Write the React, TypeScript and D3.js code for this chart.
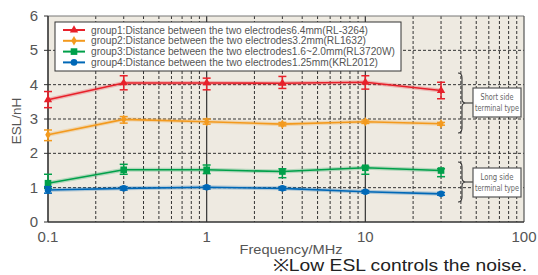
import * as d3 from "d3";
import { useEffect, useRef } from "react";

const freqs = [0.1, 0.3, 1, 3, 10, 30];

const groupNames = [
  "group1:Distance between the two electrodes6.4mm(RL-3264)",
  "group2:Distance between the two electrodes3.2mm(RL1632)",
  "group3:Distance between the two electrodes1.6~2.0mm(RL3720W)",
  "group4:Distance between the two electrodes1.25mm(KRL2012)",
];
const colors = ["#e8202a", "#f39a1e", "#00a04a", "#0068b7"];
const markers = ["triangle", "diamond", "square", "circle"];

const g1 = [3.56, 4.05, 4.05, 4.04, 4.07, 3.83];
const g1Hi = [3.8, 4.26, 4.19, 4.24, 4.26, 4.07];
const g1Lo = [3.33, 3.85, 3.85, 3.89, 3.87, 3.59];

const g2 = [2.54, 2.99, 2.92, 2.85, 2.92, 2.86];
const g2Hi = [2.68, 3.07, 3.0, 2.9, 2.97, 2.9];
const g2Lo = [2.37, 2.88, 2.85, 2.8, 2.87, 2.82];

const g3 = [1.13, 1.52, 1.52, 1.47, 1.58, 1.5];
const g3Hi = [1.39, 1.68, 1.66, 1.55, 1.62, 1.55];
const g3Lo = [0.98, 1.39, 1.41, 1.29, 1.39, 1.32];

const g4 = [0.93, 0.98, 1.01, 0.98, 0.88, 0.82];
const g4Hi = [1.03, 1.03, 1.05, 1.03, 0.92, 0.86];
const g4Lo = [0.84, 0.93, 0.96, 0.93, 0.84, 0.78];

const seriesVals = [g1, g2, g3, g4];
const seriesHi = [g1Hi, g2Hi, g3Hi, g4Hi];
const seriesLo = [g1Lo, g2Lo, g3Lo, g4Lo];

const yTicks = [0, 1, 2, 3, 4, 5, 6];
const xTicks = [0.1, 1, 10, 100];
const xTickLabels = ["0.1", "1", "10", "100"];

// widths of the legend labels as they appear in the original
const legendWidths = [277, 275, 304, 287];

const symbolTypes: Record<string, d3.SymbolType> = {
  triangle: d3.symbolTriangle,
  diamond: d3.symbolDiamond,
  square: d3.symbolSquare,
  circle: d3.symbolCircle,
};
const symbolSizes: Record<string, number> = {
  triangle: 30,
  diamond: 26,
  square: 44,
  circle: 34,
};

const font = "'Liberation Sans', Arial, sans-serif";

export default function App() {
  const ref = useRef<SVGSVGElement | null>(null);

  useEffect(() => {
    if (!ref.current) return;
    const svg = d3.select(ref.current);
    svg.selectAll("*").remove();

    const left = 48, right = 524, top = 16, bottom = 222;
    const x = d3.scaleLog().domain([0.1, 100]).range([left, right]);
    const y = d3.scaleLinear().domain([0, 6]).range([bottom, top]);

    // plot background
    svg.append("rect")
      .attr("x", left).attr("y", top)
      .attr("width", right - left).attr("height", bottom - top)
      .attr("fill", "#eeeae1");

    // minor vertical grid
    const minor: number[] = [];
    for (const dec of [0.1, 1, 10]) {
      for (let k = 2; k <= 9; k++) minor.push(dec * k);
    }
    svg.append("g").selectAll("line").data(minor).enter().append("line")
      .attr("x1", (d) => x(d)).attr("x2", (d) => x(d))
      .attr("y1", top).attr("y2", bottom)
      .attr("stroke", "#333").attr("stroke-width", 1)
      .attr("stroke-dasharray", "3,2");

    // horizontal grid
    svg.append("g").selectAll("line").data([1, 2, 3, 4, 5]).enter().append("line")
      .attr("x1", left).attr("x2", right)
      .attr("y1", (d) => y(d)).attr("y2", (d) => y(d))
      .attr("stroke", "#333").attr("stroke-width", 1)
      .attr("stroke-dasharray", "3,2");

    // solid decade lines
    svg.append("g").selectAll("line").data([1, 10]).enter().append("line")
      .attr("x1", (d) => x(d)).attr("x2", (d) => x(d))
      .attr("y1", top).attr("y2", bottom)
      .attr("stroke", "#333").attr("stroke-width", 1.2);

    // frame
    svg.append("line").attr("x1", left).attr("x2", right).attr("y1", top).attr("y2", top)
      .attr("stroke", "#777").attr("stroke-width", 1);
    svg.append("line").attr("x1", right).attr("x2", right).attr("y1", top).attr("y2", bottom)
      .attr("stroke", "#555").attr("stroke-width", 1.2);
    svg.append("line").attr("x1", left).attr("x2", left).attr("y1", top).attr("y2", bottom)
      .attr("stroke", "#333").attr("stroke-width", 1.6);
    svg.append("line").attr("x1", left).attr("x2", right).attr("y1", bottom).attr("y2", bottom)
      .attr("stroke", "#333").attr("stroke-width", 1.6);

    // y ticks
    const yt = svg.append("g");
    yt.selectAll("line").data(yTicks).enter().append("line")
      .attr("x1", left - 4).attr("x2", left)
      .attr("y1", (d) => y(d)).attr("y2", (d) => y(d))
      .attr("stroke", "#333");
    yt.selectAll("text").data(yTicks).enter().append("text")
      .attr("x", left - 10).attr("y", (d) => y(d) + 5)
      .attr("text-anchor", "end")
      .attr("font-family", font)
      .attr("font-size", 15).attr("fill", "#555")
      .text((d) => String(d));

    // x ticks
    svg.append("g").selectAll("text").data(xTicks).enter().append("text")
      .attr("x", (d) => x(d)).attr("y", bottom + 20)
      .attr("text-anchor", "middle")
      .attr("font-family", font)
      .attr("font-size", 15).attr("fill", "#555")
      .text((_, i) => xTickLabels[i]);

    svg.append("text")
      .attr("x", 291).attr("y", 254)
      .attr("text-anchor", "middle")
      .attr("font-family", font)
      .attr("font-size", 13.5).attr("fill", "#555")
      .attr("textLength", 103).attr("lengthAdjust", "spacingAndGlyphs")
      .text("Frequency/MHz");

    svg.append("text")
      .attr("transform", `translate(21,${(top + bottom) / 2 + 2}) rotate(-90)`)
      .attr("text-anchor", "middle")
      .attr("font-family", font)
      .attr("font-size", 13.5).attr("fill", "#555")
      .text("ESL/nH");

    svg.append("text")
      .attr("x", 273).attr("y", 271)
      .attr("font-family", font)
      .attr("font-size", 17).attr("fill", "#222")
      .attr("textLength", 254).attr("lengthAdjust", "spacingAndGlyphs")
      .text("※Low ESL controls the noise.");

    // series
    const line = d3.line<number>()
      .x((_, i) => x(freqs[i]))
      .y((d) => y(d));

    seriesVals.forEach((vals, si) => {
      const g = svg.append("g");
      const c = colors[si];
      g.append("path").datum(vals).attr("d", line)
        .attr("fill", "none").attr("stroke", c).attr("stroke-opacity", 0.25)
        .attr("stroke-width", 4);
      g.append("path").datum(vals).attr("d", line)
        .attr("fill", "none").attr("stroke", c).attr("stroke-width", 1.6);

      const hi = seriesHi[si], lo = seriesLo[si];
      freqs.forEach((f, i) => {
        const cx = x(f);
        g.append("line").attr("x1", cx).attr("x2", cx)
          .attr("y1", y(hi[i])).attr("y2", y(lo[i]))
          .attr("stroke", c).attr("stroke-width", 1.5);
        [hi[i], lo[i]].forEach((v) => {
          g.append("line").attr("x1", cx - 4).attr("x2", cx + 4)
            .attr("y1", y(v)).attr("y2", y(v))
            .attr("stroke", c).attr("stroke-width", 1.5);
        });
      });

      const sym = d3.symbol().type(symbolTypes[markers[si]]).size(symbolSizes[markers[si]]);
      g.selectAll("path.m").data(vals).enter().append("path")
        .attr("class", "m")
        .attr("d", sym)
        .attr("transform", (d, i) => `translate(${x(freqs[i])},${y(d)})`)
        .attr("fill", c);
    });

    // legend
    const lg = svg.append("g");
    lg.append("rect")
      .attr("x", 55).attr("y", 22).attr("width", 346).attr("height", 49)
      .attr("fill", "#fff").attr("stroke", "#333").attr("stroke-width", 1);
    groupNames.forEach((name, i) => {
      const ly = 30 + i * 10.8;
      lg.append("line").attr("x1", 63).attr("x2", 85).attr("y1", ly).attr("y2", ly)
        .attr("stroke", colors[i]).attr("stroke-width", 2);
      lg.append("path")
        .attr("d", d3.symbol().type(symbolTypes[markers[i]]).size(symbolSizes[markers[i]])())
        .attr("transform", `translate(74,${ly})`)
        .attr("fill", colors[i]);
      lg.append("text")
        .attr("x", 91).attr("y", ly + 3.5)
        .attr("font-family", font)
        .attr("font-size", 10).attr("fill", "#555")
        .attr("textLength", legendWidths[i]).attr("lengthAdjust", "spacingAndGlyphs")
        .text(name);
    });

    // brackets and annotation boxes
    const notes = [
      { y0: 73, y1: 133, lines: ["Short side", "terminal type"], by: 88, bh: 29 },
      { y0: 162, y1: 202, lines: ["Long side", "terminal type"], by: 168, bh: 29 },
    ];
    notes.forEach((n) => {
      const bx = 458, mid = (n.y0 + n.y1) / 2;
      const p = `M${bx},${n.y0} Q${bx + 4},${n.y0} ${bx + 4},${n.y0 + 5} L${bx + 4},${mid - 4} Q${bx + 4},${mid} ${bx + 8},${mid} Q${bx + 4},${mid} ${bx + 4},${mid + 4} L${bx + 4},${n.y1 - 5} Q${bx + 4},${n.y1} ${bx},${n.y1}`;
      svg.append("path").attr("d", p).attr("fill", "none")
        .attr("stroke", "#333").attr("stroke-width", 1.1);
      svg.append("line").attr("x1", bx + 8).attr("x2", 473).attr("y1", mid).attr("y2", mid)
        .attr("stroke", "#333").attr("stroke-width", 1.1);
      svg.append("rect").attr("x", 473).attr("y", n.by).attr("width", 48).attr("height", n.bh)
        .attr("fill", "#fff").attr("stroke", "#555").attr("stroke-width", 1.2);
      n.lines.forEach((t, k) => {
        svg.append("text")
          .attr("x", 497).attr("y", n.by + 12 + k * 11)
          .attr("text-anchor", "middle")
          .attr("font-family", "'Liberation Sans Narrow', 'DejaVu Sans Condensed', sans-serif")
          .attr("font-size", 9.5).attr("fill", "#666")
          .attr("textLength", k === 0 ? 33 : 44)
          .attr("lengthAdjust", "spacingAndGlyphs")
          .text(t);
      });
    });
  }, []);

  return (
    <svg ref={ref} width={538} height={275}
      style={{ position: "absolute", left: 0, top: 0, background: "#fff" }} />
  );
}
